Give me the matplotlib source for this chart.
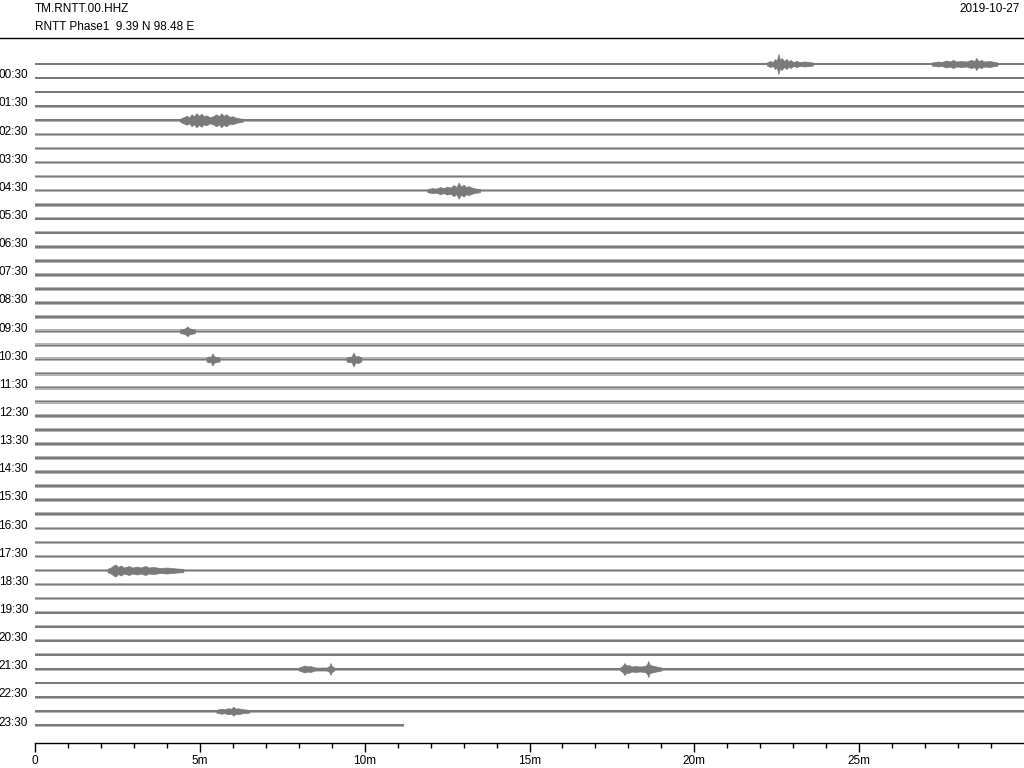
import numpy as np
import matplotlib.pyplot as plt
from matplotlib.lines import Line2D

plt.rcParams['font.family'] = ['Liberation Sans', 'DejaVu Sans']

station = "TM.RNTT.00.HHZ"
subtitle = "RNTT Phase1  9.39 N 98.48 E"
date_str = "2019-10-27"

# half-hour lines 00:00 ... 23:30, noise half-amplitude in pixels
noise_px = [1.2, 1.3, 1.2, 1.3, 1.3, 1.3, 1.4, 1.4, 1.5, 1.5,
            1.8, 1.6, 1.6, 1.6, 1.6, 1.6, 1.8, 1.8, 2.0, 2.0,
            2.0, 2.0, 2.0, 2.0, 2.0, 2.0, 2.0, 2.0, 1.9, 1.9,
            1.9, 1.8, 1.8, 1.8, 1.7, 1.7, 1.7, 1.6, 1.6, 1.5,
            1.4, 1.4, 1.5, 1.5, 1.4, 1.4, 1.4, 1.4]
last_line_end = 11.2  # minutes of data in the last line

# events: line index and envelope (minute, half-amplitude px)
event_line = [0, 0, 4, 9, 19, 21, 21, 36, 43, 43, 46]
event_env = [
    [(22.2, 1.5), (22.3, 3), (22.38, 2), (22.45, 5), (22.5, 3), (22.55, 10), (22.6, 4), (22.65, 6), (22.72, 3),
     (22.8, 5), (22.86, 2.5), (22.92, 4), (23.0, 2), (23.1, 3), (23.2, 2), (23.35, 2.5), (23.6, 1.5)],
    [(27.2, 1.5), (27.4, 2.5), (27.5, 2), (27.65, 3.5), (27.75, 2.5), (27.85, 4), (27.95, 2.5), (28.1, 3),
     (28.25, 2.5), (28.4, 4), (28.5, 3), (28.55, 6), (28.62, 3), (28.7, 4), (28.8, 2.5), (28.95, 3), (29.2, 1.5)],
    [(4.4, 1.5), (4.5, 3), (4.6, 4.5), (4.68, 3), (4.75, 6), (4.82, 4), (4.9, 7), (4.97, 4.5), (5.05, 6.5),
     (5.12, 4), (5.2, 5), (5.3, 3), (5.4, 4), (5.5, 6), (5.58, 4), (5.65, 7), (5.72, 4.5), (5.8, 6), (5.9, 3.5),
     (6.0, 4), (6.1, 2.5), (6.3, 1.5)],
    [(11.9, 1.5), (12.05, 2.5), (12.15, 2), (12.3, 3.5), (12.4, 2.5), (12.5, 4), (12.6, 3), (12.7, 5.5),
     (12.78, 3.5), (12.85, 8), (12.92, 4), (13.0, 6), (13.08, 3.5), (13.15, 4.5), (13.3, 2.5), (13.5, 1.5)],
    [(4.4, 1.8), (4.52, 2.5), (4.58, 3.5), (4.62, 5), (4.68, 3), (4.75, 2.5), (4.85, 1.8)],
    [(5.2, 2), (5.28, 3), (5.33, 2.5), (5.38, 6), (5.44, 3), (5.6, 2)],
    [(9.45, 2), (9.55, 3), (9.6, 2.5), (9.66, 7), (9.72, 3), (9.8, 3.5), (9.9, 2)],
    [(2.2, 1.7), (2.3, 3), (2.38, 5), (2.45, 6), (2.52, 3.5), (2.6, 5), (2.7, 3), (2.85, 4.5), (2.95, 3),
     (3.1, 4), (3.2, 3), (3.35, 4.5), (3.45, 3), (3.6, 3.5), (3.8, 2.5), (4.0, 3), (4.3, 2), (4.5, 1.7)],
    [(8.0, 1.5), (8.1, 2.5), (8.18, 3.5), (8.28, 2.5), (8.35, 3), (8.5, 1.5), (8.85, 1.5), (8.93, 3),
     (8.96, 6), (9.0, 3), (9.08, 1.5)],
    [(17.75, 1.5), (17.82, 3), (17.88, 6), (17.94, 3.5), (18.0, 4), (18.1, 2.5), (18.2, 3), (18.35, 2.5),
     (18.5, 3), (18.57, 5), (18.6, 8), (18.65, 4), (18.72, 3.5), (18.85, 2.5), (19.0, 1.5)],
    [(5.5, 1.4), (5.65, 2.5), (5.75, 2), (5.85, 3), (5.95, 2.5), (6.02, 4.5), (6.08, 2.5), (6.15, 3),
     (6.3, 2), (6.5, 1.4)],
]

tick_labels = ["%02d:30" % h for h in range(24)]

px = 14.07  # pixels per line spacing
col = '#7a7a7a'
halo = '#b4b4b4'

fig = plt.figure(figsize=(10.24, 7.68), dpi=100)
ax = fig.add_axes([35 / 1024, 1 - 743 / 768, 989 / 1024, (743 - 40) / 768])

n = len(noise_px)
core = 0.8 / px
for k in range(n):
    end = 30 if k < n - 1 else last_line_end
    a = noise_px[k] / px
    ax.fill_between([0, end], [k - a, k - a], [k + a, k + a], color=halo, lw=0)
    ax.fill_between([0, end], [k - core, k - core], [k + core, k + core], color=col, lw=0)
for k, env in zip(event_line, event_env):
    xs = [p[0] for p in env]
    amp = np.array([p[1] for p in env]) / px
    ax.fill_between(xs, k - amp, k + amp, color=col, lw=0.5, edgecolor=col)

ax.set_xlim(0, 30)
ax.set_ylim((743 - 64) / px, -(64 - 40) / px)

ax.set_xticks(range(0, 30, 5))
ax.set_xticklabels(["0"] + ["%dm" % m for m in range(5, 30, 5)])
ax.set_xticks(range(0, 30), minor=True)
ax.tick_params(axis='x', which='major', length=6.5, width=1, labelsize=8.5, pad=2)
ax.tick_params(axis='x', which='minor', length=3.6, width=1)

ax.set_yticks([k - 0.3 for k in range(1, n, 2)])
ax.set_yticklabels(tick_labels)
ax.tick_params(axis='y', length=0, labelsize=8.5, pad=5)

for s in ['top', 'right', 'left']:
    ax.spines[s].set_visible(False)
ax.spines['bottom'].set_linewidth(1)

fig.text(35 / 1024, 1 - 9 / 768, station, fontsize=8.5, va='center', ha='left')
fig.text(35 / 1024, 1 - 27 / 768, subtitle, fontsize=8.5, va='center', ha='left')
fig.text(1020 / 1024, 1 - 9 / 768, date_str, fontsize=8.5, va='center', ha='right')
fig.add_artist(Line2D([0, 1], [1 - 38 / 768, 1 - 38 / 768], color='black', lw=1))

fig.savefig("out.png", dpi=100)
